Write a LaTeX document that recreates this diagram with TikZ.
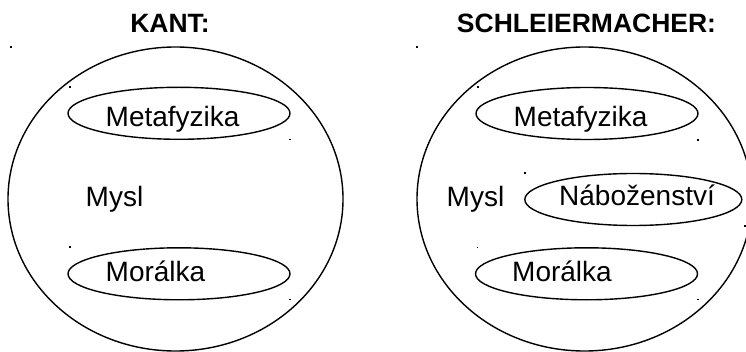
\documentclass[tikz,border=0pt]{standalone}
\usepackage{fontspec}
\setmainfont{Liberation Sans}
\usetikzlibrary{shapes.geometric}
\begin{document}
\begin{tikzpicture}[x=1pt,y=-1pt,
  outline/.style={draw, line width=1.4pt, ellipse, inner sep=0pt, outer sep=0pt},
  mind/.style={outline, minimum width=335pt, minimum height=304pt},
  field/.style={outline, minimum width=222pt, minimum height=52pt},
  lbl/.style={anchor=base west, inner sep=0pt, font=\fontsize{28}{33}\selectfont},
  heading/.style={anchor=base, inner sep=0pt, font=\fontsize{26.5}{32}\selectfont\bfseries},
  tick/.style={fill, inner sep=0pt, minimum size=1.7pt}
]
\useasboundingbox (0,0) rectangle (746,352);
\clip (0,0) rectangle (746,352);

% headings
\node[heading] (tK) at (170,33) {KANT:};
\node[heading] (tS) at (586.5,33) {SCHLEIERMACHER:};

% Kant: the mind with two separate fields
\node[mind] (mK) at (175.5,199) {};
\node[field] (fKmeta) at (179,113.3) {};
\node[field] (fKmor) at (179,273.8) {};
\node[lbl] (lKmeta) at (105.5,126.7) {Metafyzika};
\node[lbl] (lKmor) at (105.5,281.7) {Morálka};
\node[lbl] (lKmind) at (85.5,206.7) {Mysl};

% Schleiermacher: religion added as a third field
\node[mind] (mS) at (584.5,199) {};
\node[field] (fSmeta) at (587,113.5) {};
\node[field, minimum width=217pt] (fSrel) at (633.3,199.5) {};
\node[field] (fSmor) at (586.5,273.8) {};
\node[lbl] (lSmeta) at (513.5,126.7) {Metafyzika};
\node[lbl] (lSrel) at (559,206) {Náboženství};
\node[lbl] (lSmor) at (512,281.7) {Morálka};
\node[lbl] (lSmind) at (446.5,206.7) {Mysl};

% small corner marks of the shapes' frames
\node[tick] (k1) at (11,47) {};
\node[tick] (k2) at (70,87) {};
\node[tick] (k3) at (290,139.5) {};
\node[tick] (k4) at (70,247) {};
\node[tick] (k5) at (290,299.5) {};
\node[tick] (s1) at (417,47) {};
\node[tick] (s2) at (478,86.7) {};
\node[tick] (s3) at (698,140) {};
\node[tick] (s4) at (525,172.7) {};
\node[tick] (s5) at (744.7,226) {};
\node[tick] (s6) at (477.5,247.5) {};
\node[tick] (s7) at (698,299.5) {};
\end{tikzpicture}
\end{document}
